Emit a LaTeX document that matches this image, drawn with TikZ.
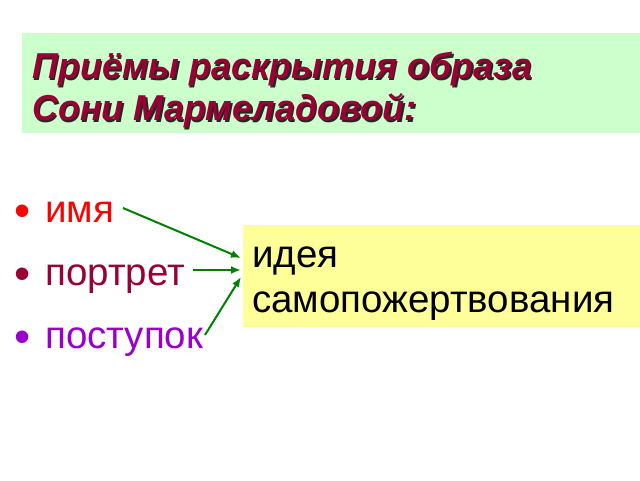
\documentclass[tikz,border=0pt]{standalone}
\usepackage{fontspec}
\setmainfont{Liberation Sans}
\usetikzlibrary{positioning}
\definecolor{titlered}{RGB}{153,0,51}
\definecolor{titlebg}{RGB}{204,255,204}
\definecolor{ideabg}{RGB}{255,255,153}
\definecolor{itemred}{RGB}{255,0,0}
\definecolor{itemdark}{RGB}{153,0,51}
\definecolor{itempurple}{RGB}{153,0,204}
\definecolor{arrowgreen}{RGB}{0,128,0}
\tikzset{
  titletext/.style={anchor=base west,inner sep=0pt,text=titlered,
    font=\fontsize{36}{42}\selectfont\bfseries\itshape},
  titleshade/.style={anchor=base west,inner sep=0pt,text=black!85,
    font=\fontsize{36}{42}\selectfont\bfseries\itshape},
  item/.style={anchor=base west,inner sep=0pt,font=\fontsize{38.5}{44}\selectfont},
  dot/.style={anchor=base west,inner sep=0pt,font=\fontsize{46}{50}\selectfont},
  ideatext/.style={anchor=base west,inner sep=0pt,font=\fontsize{38.5}{44}\selectfont},
  arr/.style={-{Latex[length=10pt,width=8pt]},draw=arrowgreen,line width=2pt}
}
\usetikzlibrary{arrows.meta}
\begin{document}
\begin{tikzpicture}[x=1pt,y=1pt]
  \useasboundingbox (0,0) rectangle (640,480);
  \fill[white] (0,0) rectangle (640,480);
  % title
  \fill[titlebg] (22,347) rectangle (640,447);
  \node[titleshade] at (33.5,399.5) {Приёмы раскрытия образа};
  \node[titleshade] at (33.5,357.5) {Сони Мармеладовой:};
  \node[titletext] (title1) at (32,401) {Приёмы раскрытия образа};
  \node[titletext] (title2) at (32,359) {Сони Мармеладовой:};
  % idea box
  \fill[ideabg] (243,153) rectangle (640,255);
  \node[ideatext] (idea1) at (252,213) {идея};
  \node[ideatext] (idea2) at (252,168) {самопожертвования};
  % items
  \node[dot,text=itemred] (dot1) at (14,253) {•};
  \node[dot,text=itemdark] (dot2) at (14,191) {•};
  \node[dot,text=itempurple] (dot3) at (14,128) {•};
  \node[item,text=itemred] (name) at (45,257) {имя};
  \node[item,text=itemdark] (portrait) at (45,195) {портрет};
  \node[item,text=itempurple] (deed) at (45,132) {поступок};
  \coordinate (out1) at (123,272);
  \coordinate (out2) at (193,210);
  \coordinate (out3) at (205,145);
  \coordinate (in1) at (241,222);
  \coordinate (in2) at (241,210);
  \coordinate (in3) at (241,203);
  \begin{scope}[arr]
    \draw (out1) to (in1);
    \draw (out2) to (in2);
    \draw (out3) to (in3);
  \end{scope}
\end{tikzpicture}
\end{document}
